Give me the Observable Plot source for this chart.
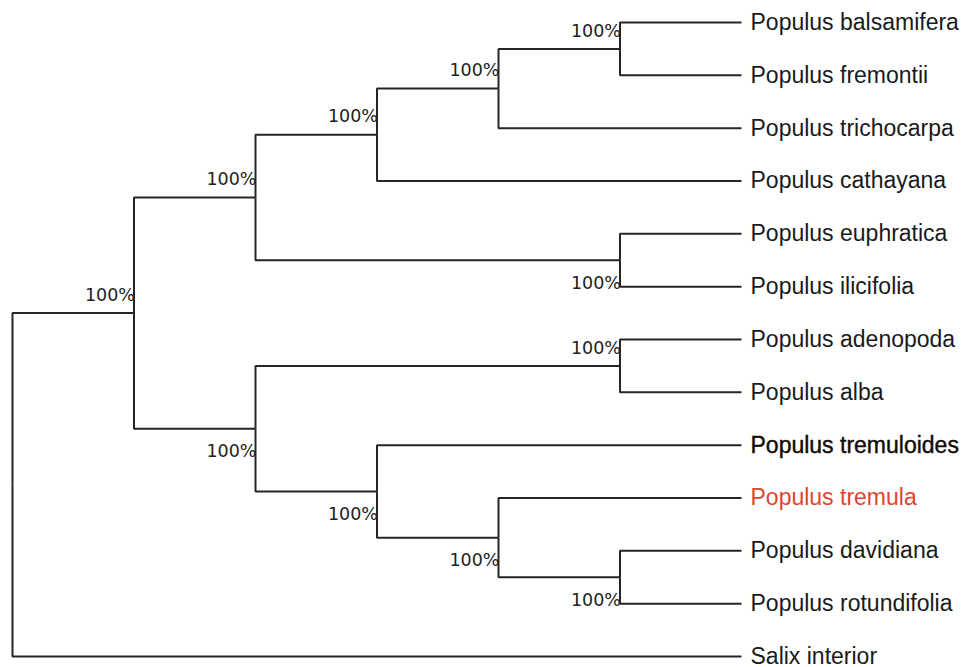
<!DOCTYPE html>
<html><head><meta charset="utf-8">
<script src="https://cdn.jsdelivr.net/npm/d3@7"></script>
<script src="https://cdn.jsdelivr.net/npm/@observablehq/plot@0.6"></script>
<style>html,body{margin:0;padding:0;background:#fff} #chart svg{display:block}</style>
</head><body><div id="chart"></div>
<script>
// Leaf taxa, top to bottom
const taxa = ["Populus balsamifera", "Populus fremontii", "Populus trichocarpa", "Populus cathayana",
  "Populus euphratica", "Populus ilicifolia", "Populus adenopoda", "Populus alba",
  "Populus tremuloides", "Populus tremula", "Populus davidiana", "Populus rotundifolia", "Salix interior"];
// Parent clade of each taxon
const taxonParent = ["root/A/B/D/F/G", "root/A/B/D/F/G", "root/A/B/D/F", "root/A/B/D",
  "root/A/B/E", "root/A/B/E", "root/A/C/H", "root/A/C/H",
  "root/A/C/I", "root/A/C/I/J", "root/A/C/I/J/K", "root/A/C/I/J/K", "root"];
// Internal nodes (clades)
const clades = ["root", "root/A", "root/A/B", "root/A/B/D", "root/A/B/D/F", "root/A/B/D/F/G",
  "root/A/B/E", "root/A/C", "root/A/C/H", "root/A/C/I", "root/A/C/I/J", "root/A/C/I/J/K"];
// Bootstrap support of each clade
const cladeSupport = [null, "100%", "100%", "100%", "100%", "100%", "100%", "100%", "100%", "100%", "100%", "100%"];
// Side of the branch where the support label sits
const cladeLabelSide = [null, "above", "above", "above", "above", "above", "below", "below", "above", "below", "below", "below"];
const boldTaxa = ["Populus tremuloides"];
const redTaxa = ["Populus tremula"];

const table = [
  ...clades.map((p, i) => ({path: p, kind: "clade", support: cladeSupport[i], side: cladeLabelSide[i]})),
  ...taxa.map((t, i) => ({path: taxonParent[i] + "/" + t, kind: "taxon", name: t}))
];

const order = new Map(taxa.map((t, i) => [t, i]));
const leafRank = (n) => d3.min(n.leaves(), (l) => order.get(String(l.id).split("/").pop()));
const treeOpts = {
  path: "path",
  treeLayout: d3.cluster,
  treeSort: (a, b) => leafRank(a) - leafRank(b),
  treeSeparation: null
};

const isPlain = (d) => d && d.kind === "taxon" && !boldTaxa.includes(d.name) && !redTaxa.includes(d.name);
const leafFont = "'Liberation Sans', Arial, sans-serif";
const supFont = "'DejaVu Sans', sans-serif";

const chart = Plot.plot({
  width: 967,
  height: 667,
  marginLeft: 12,
  marginRight: 226,
  marginTop: 22,
  marginBottom: 11,
  x: {axis: null},
  y: {axis: null},
  style: {background: "#fff", overflow: "visible"},
  marks: [
    Plot.link(table, Plot.treeLink({...treeOpts, stroke: "#262626", strokeOpacity: 1, strokeWidth: 2, curve: "step-before"})),
    Plot.text(table, Plot.treeNode({...treeOpts,
      text: (d) => (d && d.side === "above" ? d.support : null),
      textAnchor: "end", dx: 1, dy: -18, fontSize: 17.5, fontFamily: supFont, fill: "#222"})),
    Plot.text(table, Plot.treeNode({...treeOpts,
      text: (d) => (d && d.side === "below" ? d.support : null),
      textAnchor: "end", dx: 1, dy: 23, fontSize: 17.5, fontFamily: supFont, fill: "#222"})),
    Plot.text(table, Plot.treeNode({...treeOpts,
      text: (d) => (isPlain(d) ? d.name : null),
      textAnchor: "start", dx: 9, fontSize: 23, fontFamily: leafFont, fill: "#1a1a1a"})),
    Plot.text(table, Plot.treeNode({...treeOpts,
      text: (d) => (d && boldTaxa.includes(d.name) ? d.name : null),
      textAnchor: "start", dx: 9, fontSize: 23, fontFamily: leafFont, fill: "#140a05",
      stroke: "#140a05", strokeWidth: 0.4})),
    Plot.text(table, Plot.treeNode({...treeOpts,
      text: (d) => (d && redTaxa.includes(d.name) ? d.name : null),
      textAnchor: "start", dx: 9, fontSize: 23, fontFamily: leafFont, fill: "#e2452f"}))
  ]
});
document.getElementById("chart").append(chart);
</script>
</body></html>
